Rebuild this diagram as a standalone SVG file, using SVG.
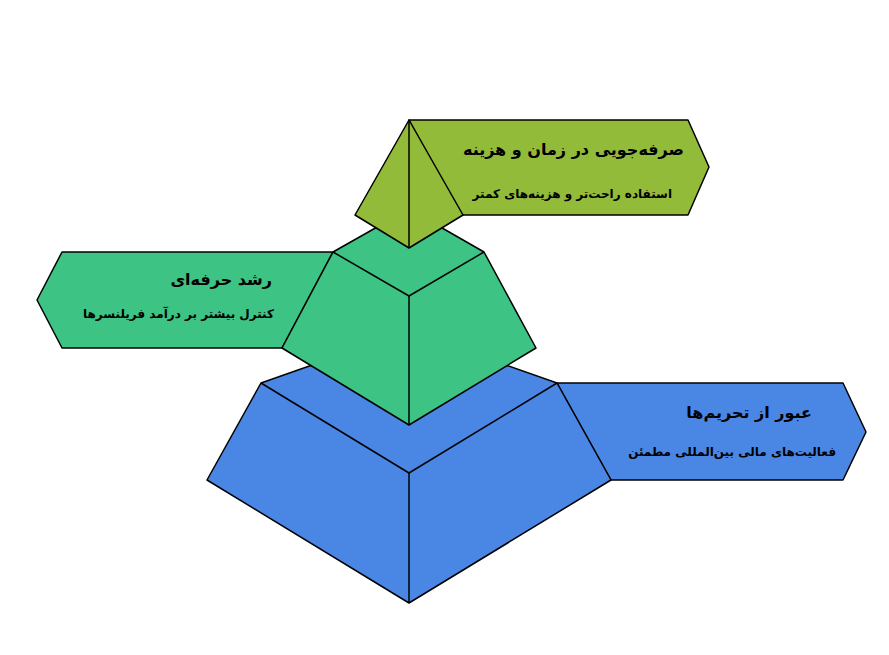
<svg xmlns="http://www.w3.org/2000/svg" width="889" height="655" viewBox="0 0 889 655">
<style>
.s{stroke:#000;stroke-width:1.5;stroke-linejoin:round;fill:none}
.t{font-family:"DejaVu Sans","Noto Sans",sans-serif;font-weight:bold;fill:#000;text-anchor:end}
.h{font-size:16px}.p{font-size:12px}
.b{fill:#4A86E4}.g{fill:#3DC383}.y{fill:#92BB3A}
</style>
<rect width="889" height="655" fill="#fff"/>
<g id="blue">
<polygon class="s b" points="557,383 843,383 866,432 843,480 611,480"/>
<polygon class="s b" points="261,383 409,331 557,383 611,480 409,603 207,480"/>
<polyline class="s" points="261,383 409,473 557,383"/>
<line class="s" x1="409" y1="473" x2="409" y2="603"/>
<text class="t h" x="812" y="418">عبور از تحریم‌ها</text>
<text class="t p" x="836" y="456">فعالیت‌های مالی بین‌المللی مطمئن</text>
</g>
<g id="green">
<polygon class="s g" points="333,252 62,252 37,300 62,348 282,348"/>
<polygon class="s g" points="333,252 409,209 484,252 536,348 409,425 282,348"/>
<polyline class="s" points="333,252 409,296 484,252"/>
<line class="s" x1="409" y1="296" x2="409" y2="425"/>
<text class="t h" x="272" y="285">رشد حرفه‌ای</text>
<text class="t p" x="274" y="318">کنترل بیشتر بر درآمد فریلنسرها</text>
</g>
<g id="top">
<polygon class="s y" points="409,120 688,120 709,167 688,215 460,215"/>
<polygon class="s y" points="409,120 463,215 409,248 355,215"/>
<line class="s" x1="409" y1="120" x2="409" y2="248"/>
<text class="t h" x="684" y="155">صرفه‌جویی در زمان و هزینه</text>
<text class="t p" x="672" y="198">استفاده راحت‌تر و هزینه‌های کمتر</text>
</g>
<g id="connectors"></g>
</svg>
